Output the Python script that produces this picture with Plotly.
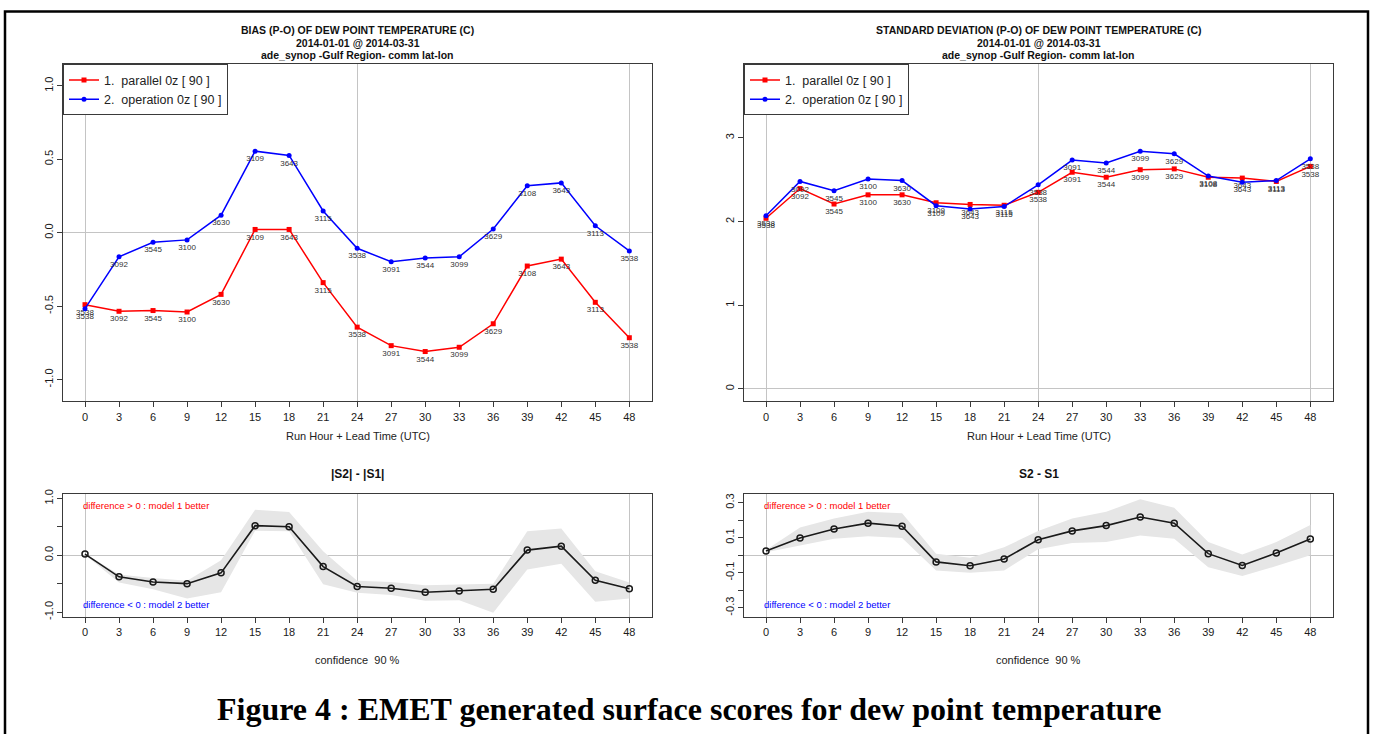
import plotly.graph_objects as go

# ---------------- data ----------------
hours = [0, 3, 6, 9, 12, 15, 18, 21, 24, 27, 30, 33, 36, 39, 42, 45, 48]
counts = [3538, 3092, 3545, 3100, 3630, 3109, 3643, 3115, 3538,
          3091, 3544, 3099, 3629, 3108, 3643, 3113, 3538]

bias_parallel = [-0.49, -0.535, -0.53, -0.54, -0.42, 0.022, 0.022, -0.34, -0.643,
                 -0.769, -0.809, -0.78, -0.62, -0.227, -0.18, -0.474, -0.715]
bias_operation = [-0.517, -0.164, -0.065, -0.049, 0.119, 0.555, 0.526, 0.148, -0.106,
                  -0.198, -0.173, -0.164, 0.025, 0.319, 0.339, 0.047, -0.124]

std_parallel = [2.04, 2.395, 2.21, 2.32, 2.32, 2.225, 2.205, 2.195, 2.35,
                2.59, 2.53, 2.62, 2.63, 2.53, 2.52, 2.48, 2.66]
std_operation = [2.071, 2.48, 2.37, 2.51, 2.49, 2.19, 2.15, 2.18, 2.44,
                 2.735, 2.70, 2.84, 2.81, 2.545, 2.47, 2.49, 2.75]

absdiff = [0.02, -0.38, -0.47, -0.50, -0.31, 0.52, 0.50, -0.20, -0.55,
           -0.58, -0.65, -0.63, -0.60, 0.09, 0.16, -0.44, -0.59]
absdiff_hi = [0.03, -0.34, -0.40, -0.45, -0.09, 0.80, 0.76, 0.07, -0.45,
              -0.47, -0.53, -0.51, -0.50, 0.42, 0.47, -0.28, -0.48]
absdiff_lo = [0.01, -0.48, -0.60, -0.76, -0.65, 0.43, 0.42, -0.51, -0.66,
              -0.70, -0.80, -0.79, -1.01, -0.25, -0.15, -0.82, -0.76]

stddiff = [0.024, 0.098, 0.15, 0.183, 0.166, -0.038, -0.06, -0.021, 0.088,
           0.139, 0.169, 0.218, 0.183, 0.009, -0.058, 0.013, 0.092]
stddiff_hi = [0.03, 0.158, 0.21, 0.248, 0.239, 0.008, -0.015, 0.045, 0.139,
              0.21, 0.248, 0.32, 0.271, 0.075, 0.004, 0.075, 0.173]
stddiff_lo = [0.017, 0.056, 0.094, 0.109, 0.098, -0.087, -0.10, -0.087, 0.034,
              0.07, 0.075, 0.113, 0.094, -0.068, -0.119, -0.062, 0.0]

series_names = ["1.  parallel 0z [ 90 ]", "2.  operation 0z [ 90 ]"]
top_titles = [
    ["BIAS (P-O) OF DEW POINT TEMPERATURE (C)", "2014-01-01 @ 2014-03-31",
     "ade_synop -Gulf Region- comm lat-lon"],
    ["STANDARD DEVIATION (P-O) OF DEW POINT TEMPERATURE (C)", "2014-01-01 @ 2014-03-31",
     "ade_synop -Gulf Region- comm lat-lon"],
]
bottom_titles = ["|S2| - |S1|", "S2 - S1"]
xlabel_top = "Run Hour + Lead Time (UTC)"
xlabel_bottom = "confidence  90 %"
caption = "Figure 4 : EMET generated surface scores for dew point temperature"

# ---------------- layout helpers ----------------
W, H = 1375, 734
def px(x):
    return x / W
def py(y):
    return 1 - y / H

FONT = "Liberation Sans, Arial, sans-serif"
RED = "#FF0000"
BLUE = "#0000FF"
GRID = "#C4C4C4"
AX = "#3a3a3a"

colL = (63, 652)
colR = (744, 1333)
rowT = (60, 400.7)
rowB = (494.3, 618.3)

fig = go.Figure()

# ---- top-left: bias ----
fig.add_trace(go.Scatter(
    x=hours, y=bias_parallel, mode="lines+markers+text", name=series_names[0],
    text=[str(c) for c in counts], textposition="bottom center",
    textfont=dict(size=8, color="#333333", family=FONT),
    line=dict(color=RED, width=1.5), marker=dict(symbol="square", size=5, color=RED),
    xaxis="x", yaxis="y", legend="legend", cliponaxis=False))
fig.add_trace(go.Scatter(
    x=hours, y=bias_operation, mode="lines+markers+text", name=series_names[1],
    text=[str(c) for c in counts], textposition="bottom center",
    textfont=dict(size=8, color="#333333", family=FONT),
    line=dict(color=BLUE, width=1.5), marker=dict(symbol="circle", size=5, color=BLUE),
    xaxis="x", yaxis="y", legend="legend", cliponaxis=False))

# ---- top-right: std ----
fig.add_trace(go.Scatter(
    x=hours, y=std_parallel, mode="lines+markers+text", name=series_names[0],
    text=[str(c) for c in counts], textposition="bottom center",
    textfont=dict(size=8, color="#333333", family=FONT),
    line=dict(color=RED, width=1.5), marker=dict(symbol="square", size=5, color=RED),
    xaxis="x2", yaxis="y2", legend="legend2", cliponaxis=False))
fig.add_trace(go.Scatter(
    x=hours, y=std_operation, mode="lines+markers+text", name=series_names[1],
    text=[str(c) for c in counts], textposition="bottom center",
    textfont=dict(size=8, color="#333333", family=FONT),
    line=dict(color=BLUE, width=1.5), marker=dict(symbol="circle", size=5, color=BLUE),
    xaxis="x2", yaxis="y2", legend="legend2", cliponaxis=False))

# ---- bottom panels: difference with confidence band ----
for (d, hi, lo, xa, ya) in [(absdiff, absdiff_hi, absdiff_lo, "x3", "y3"),
                            (stddiff, stddiff_hi, stddiff_lo, "x4", "y4")]:
    fig.add_trace(go.Scatter(x=hours, y=hi, mode="lines", line=dict(width=0, color="#E6E6E6"),
                             showlegend=False, xaxis=xa, yaxis=ya, hoverinfo="skip"))
    fig.add_trace(go.Scatter(x=hours, y=lo, mode="lines", line=dict(width=0, color="#E6E6E6"),
                             fill="tonexty", fillcolor="#E6E6E6",
                             showlegend=False, xaxis=xa, yaxis=ya, hoverinfo="skip"))
    fig.add_trace(go.Scatter(x=hours, y=d, mode="lines+markers",
                             line=dict(color="#1a1a1a", width=1.6),
                             marker=dict(symbol="circle-open", size=6,
                                         line=dict(color="#1a1a1a", width=1.5)),
                             showlegend=False, xaxis=xa, yaxis=ya))

def xaxis_cfg(col, row_anchor):
    return dict(
        domain=[px(col[0]), px(col[1])], range=[-1.94, 50.0], anchor=row_anchor,
        tickmode="array", tickvals=hours, ticktext=[str(h) for h in hours],
        ticks="outside", ticklen=5, tickcolor=AX, tickwidth=1,
        showline=True, mirror=True, linecolor=AX, linewidth=1,
        showgrid=False, zeroline=False,
        minor=dict(tickmode="array", tickvals=[0, 24, 48], showgrid=True,
                   gridcolor=GRID, gridwidth=1, ticks=""),
        tickfont=dict(family=FONT, size=11, color="#1a1a1a"),
    )

def yaxis_cfg(row, rng, tv, tt, xanchor):
    return dict(
        domain=[py(row[1]), py(row[0])], range=rng, anchor=xanchor,
        tickmode="array", tickvals=tv, ticktext=tt, tickangle=-90,
        ticks="outside", ticklen=5, tickcolor=AX, tickwidth=1,
        showline=True, mirror=True, linecolor=AX, linewidth=1,
        showgrid=False, zeroline=True, zerolinecolor=GRID, zerolinewidth=1,
        tickfont=dict(family=FONT, size=11, color="#1a1a1a"),
    )

legend_common = dict(
    xanchor="left", yanchor="top", bordercolor=AX, borderwidth=1, bgcolor="white",
    font=dict(family=FONT, size=12.5, color="#222222"), tracegroupgap=0, itemwidth=30,
    traceorder="normal",
)

annotations = []
for col, lines in [(colL, top_titles[0]), (colR, top_titles[1])]:
    cx = px((col[0] + col[1]) / 2)
    for i, t in enumerate(lines):
        annotations.append(dict(x=cx, y=py(25 + 13 * i), xref="paper", yref="paper",
                                text="<b>%s</b>" % t, showarrow=False,
                                font=dict(family=FONT, size=10.5, color="#111111"),
                                xanchor="center", yanchor="middle"))
    annotations.append(dict(x=cx, y=py(436), xref="paper", yref="paper", text=xlabel_top,
                            showarrow=False, font=dict(family=FONT, size=11, color="#222222"),
                            xanchor="center", yanchor="middle"))
for col, t in [(colL, bottom_titles[0]), (colR, bottom_titles[1])]:
    cx = px((col[0] + col[1]) / 2)
    annotations.append(dict(x=cx, y=py(474), xref="paper", yref="paper", text="<b>%s</b>" % t,
                            showarrow=False, font=dict(family=FONT, size=12, color="#111111"),
                            xanchor="center", yanchor="middle"))
    annotations.append(dict(x=cx, y=py(662), xref="paper", yref="paper", text=xlabel_bottom,
                            showarrow=False, font=dict(family=FONT, size=11, color="#222222"),
                            xanchor="center", yanchor="middle"))
    annotations.append(dict(x=px(col[0] + 18), y=py(506), xref="paper", yref="paper",
                            text="difference > 0 : model 1 better", showarrow=False,
                            font=dict(family=FONT, size=9.5, color=RED),
                            xanchor="left", yanchor="middle"))
    annotations.append(dict(x=px(col[0] + 18), y=py(606.5), xref="paper", yref="paper",
                            text="difference < 0 : model 2 better", showarrow=False,
                            font=dict(family=FONT, size=9.5, color=BLUE),
                            xanchor="left", yanchor="middle"))
annotations.append(dict(x=px(689), y=py(712), xref="paper", yref="paper", text="<b>%s</b>" % caption,
                        showarrow=False,
                        font=dict(family="Liberation Serif, Times New Roman, serif", size=32,
                                  color="#000000"),
                        xanchor="center", yanchor="middle"))

fig.update_layout(
    width=W, height=H, autosize=False,
    margin=dict(l=0, r=0, t=0, b=0),
    paper_bgcolor="white", plot_bgcolor="white",
    showlegend=True,
    xaxis=xaxis_cfg(colL, "y"),
    xaxis2=xaxis_cfg(colR, "y2"),
    xaxis3=xaxis_cfg(colL, "y3"),
    xaxis4=xaxis_cfg(colR, "y4"),
    yaxis=yaxis_cfg(rowT, [-1.148, 1.146], [-1, -0.5, 0, 0.5, 1],
                    ["-1.0", "-0.5", "0.0", "0.5", "1.0"], "x"),
    yaxis2=yaxis_cfg(rowT, [-0.149, 3.88], [0, 1, 2, 3], ["0", "1", "2", "3"], "x2"),
    yaxis3=yaxis_cfg(rowB, [-1.079, 1.079], [-1, -0.5, 0, 0.5, 1],
                     ["-1.0", "", "0.0", "", "1.0"], "x3"),
    yaxis4=yaxis_cfg(rowB, [-0.35, 0.35], [-0.3, -0.2, -0.1, 0, 0.1, 0.2, 0.3],
                     ["-0.3", "", "-0.1", "", "0.1", "", "0.3"], "x4"),
    legend=dict(x=px(colL[0]), y=py(rowT[0]), **legend_common),
    legend2=dict(x=px(colR[0]), y=py(rowT[0]), **legend_common),
    annotations=annotations,
    shapes=[dict(type="rect", xref="paper", yref="paper",
                 x0=px(5), x1=px(1368), y0=-0.05, y1=py(6.5),
                 line=dict(color="black", width=2.5), fillcolor="rgba(0,0,0,0)")],
)

fig.write_html("out.html")
